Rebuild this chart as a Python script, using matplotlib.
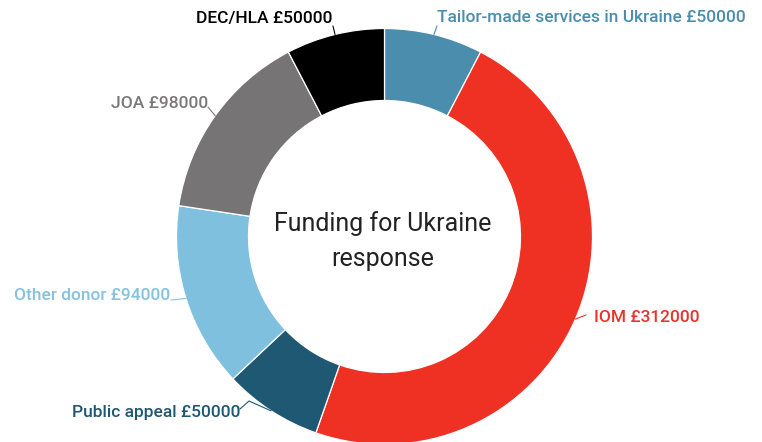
import numpy as np
import matplotlib
matplotlib.use("Agg")
import matplotlib.pyplot as plt

# funding sources, clockwise from 12 o'clock
labels = ['Tailor-made services in Ukraine', 'IOM', 'Public appeal',
          'Other donor', 'JOA', 'DEC/HLA']
amounts = [50000, 312000, 50000, 94000, 98000, 50000]
colors = ['#4a8dac', '#ef3124', '#1e5872', '#7fc0df', '#767474', '#000000']
text_colors = ['#4a8dac', '#e8342a', '#1e5872', '#84c2de', '#7a7878', '#000000']
title = 'Funding for Ukraine\nresponse'

W, H = 762, 442
fig = plt.figure(figsize=(W / 100, H / 100), dpi=100)
ax = fig.add_axes([0, 0, 1, 1])

cx, cy = 384.5, H - 236.5
R = 208
wedges, _ = ax.pie(amounts, colors=colors, startangle=90, counterclock=False,
                   center=(cx, cy), radius=R,
                   wedgeprops=dict(width=72, edgecolor='white', linewidth=0.9))
ax.set_xlim(0, W)
ax.set_ylim(0, H)
ax.set_aspect('equal')
ax.axis('off')

# label placement (pixel coords, y down): x, y, alignment
label_pos = [(437, 18, 'left'), (594, 318, 'left'), (240, 413, 'right'),
             (170, 296, 'right'), (208, 103, 'right'), (333, 19, 'right')]
# where the leader leaves the text
lead_start = [(437, 26), (586, 315), (240, 409), (171, 300), (208, 107), (333, 26)]

for w, lab, val, tc, (tx, ty, ha), (sx, sy) in zip(wedges, labels, amounts, text_colors,
                                                   label_pos, lead_start):
    mid = np.deg2rad((w.theta1 + w.theta2) / 2)
    ex, ey = cx + R * np.cos(mid), cy + R * np.sin(mid)
    xs = [sx, ex]
    ys = [H - sy, ey]
    if lab == 'Public appeal':
        xs = [sx, 249, ex]
        ys = [H - sy, H - 401, ey]
    ax.plot(xs, ys, color=tc, lw=0.8, solid_capstyle='round')
    ax.text(tx, H - ty, '%s £%d' % (lab, val), color=tc, ha=ha, va='center',
            fontsize=12.5, family='Roboto', fontweight='medium')

ax.text(cx - 2, H - 241, title, ha='center', va='center', fontsize=18,
        family='Roboto', color='#222222', linespacing=1.6)

fig.savefig('out.png', dpi=100, facecolor='white')
